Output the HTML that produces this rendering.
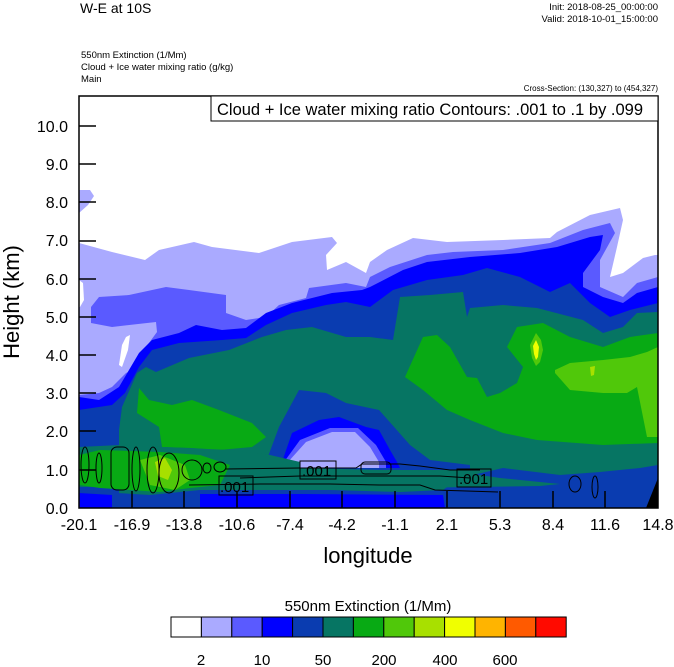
<!DOCTYPE html>
<html><head><meta charset="utf-8"><style>
html,body{margin:0;padding:0;background:#fff;}
svg{display:block;font-family:"Liberation Sans",sans-serif;}
</style></head><body>
<svg width="674" height="667" viewBox="0 0 674 667" xmlns="http://www.w3.org/2000/svg">
<rect width="674" height="667" fill="#fff"/>
<text x="80" y="13" font-size="14">W-E at 10S</text>
<text x="658" y="10" font-size="9.5" text-anchor="end">Init: 2018-08-25_00:00:00</text>
<text x="658" y="22" font-size="9.5" text-anchor="end">Valid: 2018-10-01_15:00:00</text>
<text x="81" y="58" font-size="9.5">550nm Extinction   (1/Mm)</text>
<text x="81" y="70" font-size="9.5">Cloud + Ice water mixing ratio   (g/kg)</text>
<text x="81" y="82" font-size="9.5">Main</text>
<text x="658" y="91" font-size="8" text-anchor="end">Cross-Section: (130,327) to (454,327)</text>
<defs><clipPath id="c"><rect x="79" y="96" width="579" height="412"/></clipPath></defs>
<g clip-path="url(#c)">
<polygon fill="#aaaaff" points="79,190 90,190 94,196 88,205 79,213"/>
<polygon fill="#aaaaff" points="79,243 112,252 145,260 159,250 194,242 212,247 259,253 292,242 332,237 337,243 326,255 327,270 346,262 366,273 370,262 387,250 413,238 447,242 503,240 550,238 557,232 590,215 620,208 623,220 617,247 610,277 623,273 643,258 655,255 658,255 658,508 79,508"/>
<polygon fill="#fff" points="79,280 83,283 84,300 80,307 79,307"/>
<polygon fill="#fff" points="122,345 126,337 130,335 128,350 122,367 119,365"/>
<polygon fill="#5a5aff" points="91,307 99,297 129,295 166,287 189,290 226,295 226,313 246,320 266,317 279,305 306,298 309,288 346,283 366,287 370,277 390,267 427,255 453,252 503,250 550,243 583,230 610,223 615,233 600,260 600,287 623,297 637,283 658,277 658,508 79,508 79,395 99,393 112,387 126,373 139,367 146,347 157,332 156,322 112,327 91,323"/>
<polygon fill="#0000ff" points="79,397 99,400 119,387 139,353 152,340 179,333 196,325 222,330 246,328 266,313 292,303 312,298 332,293 362,290 370,287 403,270 427,262 470,257 520,253 557,247 590,237 603,235 600,250 583,273 583,287 603,297 623,303 637,293 658,287 658,508 79,508"/>
<polygon fill="#0a3cb0" points="79,410 112,405 125,393 139,367 152,350 179,343 222,340 246,338 266,325 292,313 326,305 346,302 370,307 393,290 427,280 463,275 487,268 520,277 550,292 570,283 590,303 610,317 630,310 658,303 658,508 79,508"/>
<polygon fill="#067563" points="119,430 122,407 137,373 146,367 156,372 189,358 229,350 262,337 286,330 312,327 346,337 370,337 393,340 400,297 430,295 463,292 467,317 470,308 503,305 537,308 583,320 603,333 623,327 637,313 658,312 658,508 119,508"/>
<!-- dip -->
<polygon fill="#0a3cb0" points="266,462 279,427 299,390 326,393 346,403 379,410 395,428 410,445 430,460 470,465 470,470 262,470"/>
<polygon fill="#0000ff" points="282,462 292,433 319,420 339,417 366,427 379,430 390,450 397,462 400,468 280,468"/>
<polygon fill="#5a5aff" points="284,462 300,440 330,428 358,428 376,445 386,462 386,468 284,468"/>
<polygon fill="#aaaaff" points="288,462 306,442 332,432 355,432 370,447 379,462 379,468 288,468"/>
<!-- green left -->
<polygon fill="#08aa14" points="139,388 149,400 172,405 192,400 219,410 252,423 266,437 252,447 219,450 192,448 162,447 159,427 137,413"/>
<!-- green right -->
<polygon fill="#08aa14" points="405,377 423,337 437,335 450,347 467,377 477,378 487,397 500,393 517,383 523,367 507,347 517,327 543,323 570,337 603,347 630,337 658,333 658,443 603,445 537,440 503,433 470,420 447,410 423,390"/>
<polygon fill="#50c80a" points="555,370 570,363 603,360 630,357 647,352 658,347 658,437 647,437 637,387 627,393 603,393 570,390 555,373"/>
<polygon fill="#50c80a" points="536,333 541,340 543,350 540,362 536,366 532,358 530,345"/>
<polygon fill="#f0ff00" points="536,340 539,347 538,357 536,360 534,354 533,346"/>
<polygon fill="#a8e000" points="590,367 595,366 594,375 591,376"/>
<!-- bottom bands -->
<polygon fill="#067563" points="79,447 120,445 230,450 270,455 300,462 300,470 230,475 200,487 79,487"/>
<polygon fill="#0a3cb0" points="79,487 100,492 150,495 200,490 260,490 330,490 400,492 443,490 460,478 503,468 560,475 600,472 640,468 658,465 658,508 79,508"/>
<polygon fill="#0000ff" points="79,493 112,495 112,508 79,508"/>
<polygon fill="#0000ff" points="200,494 300,494 443,495 445,508 200,508"/>
<polygon fill="#08aa14" points="79,455 100,450 160,452 200,455 230,465 220,485 190,488 160,492 130,490 100,488 79,485"/>
<polygon fill="#50c80a" points="140,460 160,455 185,465 190,480 175,490 150,485"/>
<polygon fill="#a8e000" points="155,462 165,458 172,470 168,480 158,476"/>
<polygon fill="#067563" points="230,466 300,468 460,472 500,478 540,482 560,484 540,486 400,488 300,487 230,485"/>
<polygon fill="#000" points="646,508 658,478 658,508"/>
<!-- contours -->
<g fill="none" stroke="#000" stroke-width="1">
<ellipse cx="85" cy="465" rx="4" ry="18"/>
<ellipse cx="99" cy="468" rx="3" ry="15"/>
<rect x="111" y="447" width="18" height="43" rx="6"/>
<ellipse cx="136" cy="469" rx="4" ry="22"/>
<ellipse cx="153" cy="470" rx="6" ry="23"/>
<ellipse cx="169" cy="473" rx="10" ry="20"/>
<ellipse cx="192" cy="470" rx="10" ry="10"/>
<ellipse cx="207" cy="468" rx="4" ry="5"/>
<ellipse cx="220" cy="467" rx="6" ry="5"/>
<polyline points="226,469 300,468 356,468 362,464 400,464 420,466 450,470 480,470"/>
<polyline points="189,485 260,484 330,484 379,485 420,485 435,490 498,492"/>
<polyline points="240,478 300,476 440,476 470,478"/>
<rect x="361" y="462" width="30" height="12" rx="4"/>
<ellipse cx="575" cy="484" rx="6" ry="8"/>
<ellipse cx="595" cy="487" rx="3" ry="11"/>
</g>
<g font-size="15">
<rect x="219" y="476" width="34" height="19" fill="none" stroke="#000"/>
<text x="220" y="492">.001</text>
<rect x="300" y="461" width="36" height="18" fill="none" stroke="#000"/>
<text x="302" y="476">.001</text>
<rect x="457" y="469" width="34" height="18" fill="none" stroke="#000"/>
<text x="459" y="484">.001</text>
</g>
</g>
<rect x="79" y="96" width="579" height="412" fill="none" stroke="#000" stroke-width="1.5"/>
<rect x="211" y="96" width="447" height="25" fill="#fff" stroke="#000" stroke-width="1"/>
<text x="217" y="115" font-size="16.5">Cloud + Ice water mixing ratio Contours: .001 to .1 by .099</text>
<g stroke="#000" stroke-width="1.5">
<line x1="79" y1="470" x2="96" y2="470"/><line x1="79" y1="431" x2="96" y2="431"/><line x1="79" y1="393" x2="96" y2="393"/><line x1="79" y1="355" x2="96" y2="355"/><line x1="79" y1="317" x2="96" y2="317"/><line x1="79" y1="279" x2="96" y2="279"/><line x1="79" y1="241" x2="96" y2="241"/><line x1="79" y1="202" x2="96" y2="202"/><line x1="79" y1="164" x2="96" y2="164"/><line x1="79" y1="126" x2="96" y2="126"/>
<line x1="132" y1="508" x2="132" y2="491"/><line x1="184" y1="508" x2="184" y2="491"/><line x1="237" y1="508" x2="237" y2="491"/><line x1="290" y1="508" x2="290" y2="491"/><line x1="342" y1="508" x2="342" y2="491"/><line x1="395" y1="508" x2="395" y2="491"/><line x1="447" y1="508" x2="447" y2="491"/><line x1="500" y1="508" x2="500" y2="491"/><line x1="553" y1="508" x2="553" y2="491"/><line x1="605" y1="508" x2="605" y2="491"/>
</g>
<g font-size="16" text-anchor="end">
<text x="68" y="514">0.0</text><text x="68" y="476">1.0</text><text x="68" y="437">2.0</text><text x="68" y="399">3.0</text><text x="68" y="361">4.0</text><text x="68" y="323">5.0</text><text x="68" y="285">6.0</text><text x="68" y="208">8.0</text><text x="68" y="246">7.0</text><text x="68" y="170">9.0</text><text x="68" y="132">10.0</text>
</g>
<g font-size="16" text-anchor="middle">
<text x="79" y="530">-20.1</text><text x="132" y="530">-16.9</text><text x="184" y="530">-13.8</text><text x="237" y="530">-10.6</text><text x="290" y="530">-7.4</text><text x="342" y="530">-4.2</text><text x="395" y="530">-1.1</text><text x="447" y="530">2.1</text><text x="500" y="530">5.3</text><text x="553" y="530">8.4</text><text x="605" y="530">11.6</text><text x="658" y="530">14.8</text>
</g>
<text x="368" y="563" font-size="22" text-anchor="middle">longitude</text>
<text transform="translate(19,302) rotate(-90)" font-size="22" text-anchor="middle">Height (km)</text>
<text x="368" y="611" font-size="15" text-anchor="middle">550nm Extinction  (1/Mm)</text>
<g stroke="#000" stroke-width="1">
<rect x="171" y="617" width="30.4" height="20" fill="#fff"/>
<rect x="201.4" y="617" width="30.4" height="20" fill="#aaaaff"/>
<rect x="231.8" y="617" width="30.4" height="20" fill="#5a5aff"/>
<rect x="262.2" y="617" width="30.4" height="20" fill="#0000ff"/>
<rect x="292.6" y="617" width="30.4" height="20" fill="#0a3cb0"/>
<rect x="323" y="617" width="30.4" height="20" fill="#067563"/>
<rect x="353.4" y="617" width="30.4" height="20" fill="#08aa14"/>
<rect x="383.8" y="617" width="30.4" height="20" fill="#50c80a"/>
<rect x="414.2" y="617" width="30.4" height="20" fill="#a8e000"/>
<rect x="444.6" y="617" width="30.4" height="20" fill="#f0ff00"/>
<rect x="475" y="617" width="30.4" height="20" fill="#ffb400"/>
<rect x="505.4" y="617" width="30.4" height="20" fill="#ff5a00"/>
<rect x="535.8" y="617" width="30.4" height="20" fill="#ff0a00"/>
</g>
<g font-size="15" text-anchor="middle">
<text x="201" y="665">2</text><text x="262" y="665">10</text><text x="323" y="665">50</text><text x="384" y="665">200</text><text x="445" y="665">400</text><text x="505" y="665">600</text>
</g>
</svg>
</body></html>
